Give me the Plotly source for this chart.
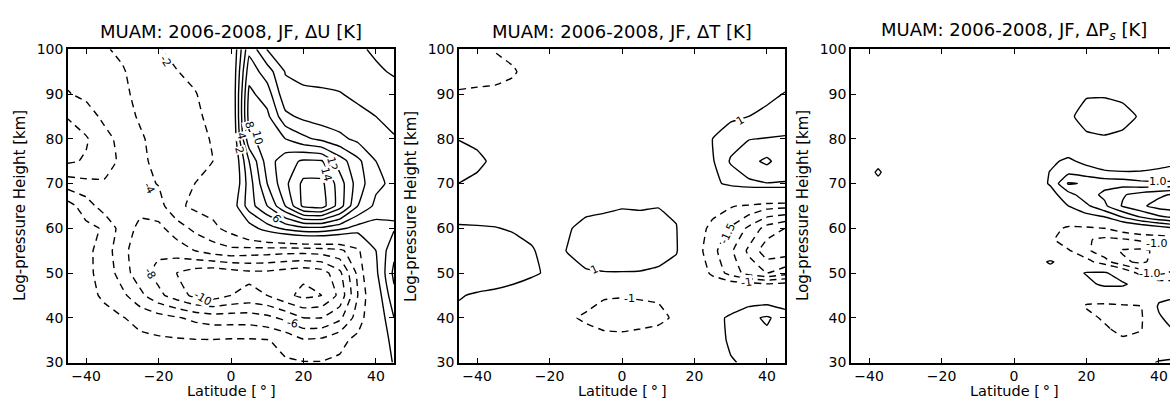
import plotly.graph_objects as go

# ---------------------------------------------------------------- grids
lat = [-45, -40, -35, -30, -25, -20, -15, -10, -5, 0, 5, 10, 15, 20, 25, 30, 35, 40, 45]
height_rows = [100, 95, 90, 85, 80, 75, 70, 65, 60, 55, 50, 45, 40, 35, 30]

# zonal wind difference, rows from 100 km down to 30 km
du_rows = [
    [-5.0, -4.6, -4.2, -3.6, -3.0, -2.1, -1.6, -1.2, -1.0, -0.5, 7.5, 3.9, 3.6, 3.4, 3.2, 2.8, 2.3, 1.7, 1.2],
    [-5.5, -5.0, -4.6, -4.2, -3.1, -2.5, -2.05, -1.6, -1.2, -0.5, 9.2, 7.0, 3.9, 3.7, 3.5, 3.2, 2.8, 2.3, 1.8],
    [-6.1, -5.6, -5.0, -4.3, -3.6, -3.0, -2.6, -2.1, -1.3, -0.6, 10.5, 9.0, 4.6, 4.2, 4.2, 4.1, 3.6, 3.0, 2.7],
    [-7.8, -6.8, -5.6, -4.6, -3.8, -3.2, -2.8, -2.3, -1.6, -0.8, 10.8, 10.5, 6.5, 5.5, 5.0, 4.8, 4.5, 4.0, 3.6],
    [-9.5, -8.2, -6.6, -5.4, -4.2, -3.4, -2.8, -2.4, -1.9, -1.0, 9.5, 11.0, 10.0, 8.5, 7.5, 6.5, 5.5, 4.6, 4.1],
    [-8.3, -7.8, -6.8, -5.6, -4.3, -3.6, -3.0, -2.4, -2.0, -1.0, 6.0, 11.0, 13.2, 14.3, 14.2, 11.0, 8.5, 6.0, 5.0],
    [-5.0, -5.5, -5.8, -5.3, -4.6, -3.9, -2.8, -2.0, -1.6, -0.8, 5.0, 10.0, 13.5, 16.5, 16.5, 13.0, 9.0, 6.5, 5.5],
    [-1.2, -3.0, -5.0, -5.6, -5.4, -4.8, -2.4, -1.6, -1.2, 0.5, 5.0, 8.0, 12.0, 16.5, 17.0, 13.0, 8.0, 5.5, 4.4],
    [-1.0, -1.5, -2.2, -5.0, -6.5, -6.5, -5.0, -3.5, -2.5, -1.2, 1.0, 3.0, 4.5, 5.5, 5.5, 4.5, 3.2, 3.0, 3.8],
    [-1.2, -1.5, -2.8, -5.5, -7.0, -7.5, -7.0, -6.0, -5.0, -4.5, -4.8, -5.0, -5.2, -5.2, -5.0, -4.5, -2.5, 2.0, 5.5],
    [-1.3, -1.6, -2.6, -5.0, -7.2, -8.7, -10.0, -11.0, -11.5, -11.0, -10.5, -10.5, -11.0, -11.5, -11.0, -8.5, -3.5, 1.5, 6.5],
    [-1.4, -1.6, -2.2, -3.5, -5.5, -7.5, -9.0, -10.5, -11.0, -10.0, -9.5, -10.0, -11.5, -12.5, -12.0, -9.5, -4.0, 0.5, 5.5],
    [-1.4, -1.5, -1.6, -1.9, -2.6, -3.2, -3.8, -4.5, -5.0, -5.0, -5.0, -5.5, -6.5, -8.0, -8.0, -6.5, -3.0, 0.0, 4.0],
    [-1.4, -1.5, -1.5, -1.5, -1.6, -1.7, -1.8, -1.9, -1.9, -1.8, -1.8, -1.9, -2.6, -3.8, -3.6, -2.5, -1.5, 0.0, 2.8],
    [-1.3, -1.3, -1.3, -1.4, -1.5, -1.5, -1.5, -1.6, -1.6, -1.6, -1.6, -1.7, -1.8, -1.9, -1.9, -1.7, -1.2, 0.0, 2.2],
]

# temperature difference, rows from 100 km down to 30 km
dt_rows = [
    [-1.3, -1.45, -0.95, -0.7, -0.5, -0.3, -0.2, -0.1, 0.0, 0.1, 0.1, 0.2, 0.2, 0.3, 0.3, 0.4, 0.5, 0.6, 0.7],
    [-1.4, -1.45, -1.3, -1.1, -0.6, -0.4, -0.2, -0.1, 0.0, 0.1, 0.1, 0.2, 0.3, 0.3, 0.4, 0.5, 0.6, 0.7, 0.8],
    [-0.9, -0.8, -0.8, -0.7, -0.5, -0.3, -0.2, -0.1, 0.0, 0.1, 0.2, 0.2, 0.3, 0.4, 0.5, 0.6, 0.8, 0.9, 1.02],
    [0.2, 0.1, 0.0, -0.1, -0.1, -0.1, 0.0, 0.0, 0.1, 0.1, 0.2, 0.3, 0.4, 0.5, 0.7, 0.9, 1.0, 1.1, 1.2],
    [0.97, 0.8, 0.6, 0.4, 0.2, 0.1, 0.1, 0.1, 0.1, 0.2, 0.2, 0.3, 0.5, 0.8, 1.0, 1.3, 1.48, 1.52, 1.55],
    [1.4, 1.2, 0.8, 0.5, 0.3, 0.2, 0.1, 0.1, 0.1, 0.2, 0.2, 0.3, 0.4, 0.6, 0.95, 1.55, 1.85, 2.1, 1.7],
    [0.99, 0.8, 0.6, 0.4, 0.3, 0.2, 0.1, 0.1, 0.1, 0.2, 0.2, 0.3, 0.3, 0.5, 0.8, 1.2, 1.4, 1.48, 1.48],
    [0.9, 0.8, 0.7, 0.6, 0.5, 0.4, 0.6, 0.85, 0.9, 0.97, 0.95, 0.98, 0.8, 0.2, -0.7, -0.95, -1.1, -1.3, -1.35],
    [1.02, 1.03, 1.02, 0.95, 0.85, 0.7, 0.95, 1.15, 1.2, 1.2, 1.2, 1.2, 1.05, -0.6, -1.2, -1.55, -2.1, -2.7, -3.0],
    [1.3, 1.35, 1.3, 1.2, 1.05, 0.8, 1.02, 1.2, 1.25, 1.3, 1.3, 1.25, 1.1, -0.7, -1.35, -1.9, -2.6, -3.3, -3.3],
    [1.3, 1.3, 1.25, 1.2, 1.1, 0.9, 0.85, 0.95, 0.98, 0.98, 0.97, 0.9, 0.5, -0.6, -1.1, -1.7, -2.2, -2.5, -2.2],
    [1.03, 0.95, 0.9, 0.8, 0.6, 0.2, -0.2, -0.7, -0.95, -0.97, -0.95, -0.92, -0.6, -0.3, -0.3, 0.2, 0.6, 0.6, 0.5],
    [0.9, 0.8, 0.6, 0.4, 0.2, 0.0, -0.9, -1.1, -1.2, -1.25, -1.2, -1.15, -0.9, -0.2, 0.7, 1.15, 1.4, 1.56, 1.3],
    [0.6, 0.5, 0.4, 0.3, 0.1, -0.2, -0.5, -0.7, -0.85, -0.85, -0.8, -0.7, -0.4, 0.0, 0.7, 1.1, 1.3, 1.38, 1.2],
    [0.4, 0.3, 0.3, 0.2, 0.1, 0.0, -0.2, -0.3, -0.4, -0.4, -0.3, -0.2, 0.0, 0.2, 0.5, 0.95, 1.1, 1.1, 1.0],
]

# surface-pressure related difference, finer vertical grid
lat_ps = [-45, -40, -37.5, -35, -25, -10, 0, 5, 10, 15, 20, 25, 30, 35, 40, 45]
height_rows_ps = [100, 95, 90, 85, 80, 77.5, 75, 72.5, 70, 67.5, 65, 62.5, 60, 57.5,
                  55, 52.5, 50, 47.5, 45, 42.5, 40, 37.5, 35, 32.5, 30]
dps_rows = [
    [0.1, 0.1, 0.1, 0.1, 0.1, 0.0, 0.0, 0.0, 0.1, 0.1, 0.2, 0.2, 0.2, 0.1, 0.1, 0.1],
    [0.1, 0.1, 0.1, 0.1, 0.1, 0.0, 0.0, 0.1, 0.1, 0.2, 0.3, 0.3, 0.3, 0.2, 0.1, 0.1],
    [0.1, 0.1, 0.1, 0.1, 0.0, 0.0, 0.1, 0.1, 0.2, 0.3, 0.45, 0.45, 0.4, 0.3, 0.2, 0.1],
    [0.1, 0.1, 0.1, 0.1, 0.0, 0.0, 0.1, 0.1, 0.2, 0.4, 0.7, 0.75, 0.65, 0.45, 0.2, 0.1],
    [0.0, 0.1, 0.1, 0.1, 0.0, 0.0, 0.1, 0.1, 0.2, 0.3, 0.4, 0.45, 0.4, 0.3, 0.2, 0.1],
    [0.0, 0.1, 0.1, 0.1, 0.0, 0.0, 0.1, 0.1, 0.2, 0.3, 0.3, 0.3, 0.3, 0.3, 0.3, 0.3],
    [0.0, 0.1, 0.2, 0.1, 0.0, 0.0, 0.1, 0.1, 0.4, 0.6, 0.35, 0.3, 0.3, 0.35, 0.4, 0.45],
    [0.0, 0.2, 0.65, 0.2, 0.0, 0.0, 0.1, 0.2, 0.52, 0.9, 0.75, 0.55, 0.52, 0.52, 0.55, 0.6],
    [0.0, 0.1, 0.2, 0.1, 0.0, 0.0, 0.1, 0.2, 0.55, 1.55, 1.45, 1.35, 1.3, 1.15, 1.1, 1.1],
    [0.0, 0.0, 0.1, 0.0, 0.0, 0.0, 0.1, 0.1, 0.3, 0.8, 1.3, 1.6, 1.95, 2.2, 2.4, 2.6],
    [0.0, 0.0, 0.0, 0.0, 0.0, 0.0, 0.0, 0.1, 0.2, 0.5, 0.9, 1.4, 2.05, 2.4, 2.7, 2.8],
    [0.0, 0.0, 0.0, 0.0, 0.0, 0.0, 0.0, 0.0, 0.1, 0.0, 0.3, 0.48, 1.0, 1.5, 1.9, 2.1],
    [0.0, 0.0, 0.0, 0.0, 0.0, 0.0, 0.0, 0.0, -0.3, -0.6, -0.6, -0.5, -0.2, 0.0, 0.2, 0.5],
    [0.0, 0.0, 0.0, 0.0, 0.0, 0.0, 0.0, 0.0, -0.4, -0.8, -0.95, -1.1, -1.05, -0.9, -0.9, -0.8],
    [0.0, 0.0, 0.0, 0.0, 0.0, 0.0, 0.0, 0.0, -0.3, -0.45, -0.9, -1.3, -1.55, -1.6, -1.4, -1.2],
    [0.0, 0.0, 0.0, 0.0, 0.0, 0.0, 0.1, 0.1, 0.6, 0.1, -0.3, -0.8, -1.4, -1.6, -1.3, -1.05],
    [0.0, 0.0, 0.0, 0.0, 0.0, 0.0, 0.0, 0.1, 0.1, 0.2, 0.55, 0.6, 0.1, -0.7, -1.1, -0.9],
    [0.0, 0.0, 0.0, 0.0, 0.0, 0.0, 0.0, 0.1, 0.1, 0.1, 0.3, 0.65, 0.6, 0.2, -0.2, -0.3],
    [0.0, 0.0, 0.0, 0.0, 0.0, 0.0, 0.0, 0.0, 0.0, 0.0, -0.3, -0.2, 0.0, 0.2, 0.3, 0.4],
    [0.0, 0.0, 0.0, 0.0, 0.0, 0.0, 0.0, 0.0, 0.0, -0.2, -0.55, -0.6, -0.6, -0.55, 0.6, 0.9],
    [0.0, 0.0, 0.0, 0.0, 0.0, 0.0, 0.0, 0.0, 0.0, -0.1, -0.3, -0.6, -0.7, -0.6, 0.4, 0.9],
    [0.0, 0.0, 0.0, 0.0, 0.0, 0.0, 0.0, 0.0, 0.0, 0.0, -0.1, -0.4, -0.7, -0.55, 0.2, 0.6],
    [0.0, 0.0, 0.0, 0.0, 0.0, 0.0, 0.0, 0.0, 0.0, 0.0, 0.0, -0.2, -0.4, -0.3, 0.1, 0.3],
    [0.0, 0.0, 0.0, 0.0, 0.0, 0.0, 0.0, 0.0, 0.0, 0.0, 0.0, 0.0, 0.0, 0.1, 0.2, 0.3],
    [0.0, 0.0, 0.0, 0.0, 0.0, 0.0, 0.0, 0.0, 0.0, 0.0, 0.0, 0.1, 0.2, 0.3, 0.55, 0.6],
]

# contour levels per panel: (negative start, negative end, positive start, positive end, step)
levels_du = (-12, -2, 2, 16, 2)
levels_dt = (-3.5, -1, 1, 2.5, 0.5)
levels_dps = (-2.0, -0.5, 0.5, 3.0, 0.5)

# inline contour labels: (latitude, height, level, rotation in degrees, anchor)
labels_du = [
    (-18.0, 97.3, -2, 57, "center"), (-22.5, 69.0, -4, 62, "center"),
    (-22.3, 50.0, -8, 60, "center"), (-7.7, 44.4, -10, 30, "center"),
    (17.0, 38.8, -6, 12, "center"),
    (2.2, 77.3, 2, 75, "center"), (3.0, 80.6, 4, 75, "center"),
    (5.0, 83.2, 8, 75, "center"), (7.2, 80.2, 10, 75, "center"),
    (28.0, 74.3, 12, 75, "center"), (26.3, 72.0, 14, 75, "center"),
    (12.5, 62.2, 6, 50, "center"),
]
labels_dt = [
    (32.8, 84.0, 1, -30, "center"), (-7.5, 50.7, 1, -25, "center"),
    (2.0, 44.4, -1, 0, "center"), (29.0, 58.7, -1.5, -65, "center"),
    (34.5, 47.9, -1, -8, "center"),
]
labels_dps = [
    (42.6, 70.4, 1.0, 0, "right"), (42.6, 56.6, -1.0, 0, "right"),
    (37.5, 49.8, -1.0, 0, "center"),
]

titles = [
    "MUAM: 2006-2008, JF, \u0394U [K]",
    "MUAM: 2006-2008, JF, \u0394T [K]",
    "MUAM: 2006-2008, JF, \u0394P<sub><i>s</i></sub> [K]",
]
lat_ticks = [-40, -20, 0, 20, 40]
height_ticks = [30, 40, 50, 60, 70, 80, 90, 100]

FONT = "DejaVu Sans"
W, H = 1170, 408

# ---------------------------------------------------------------- figure
fig = go.Figure()


def add_field(x, y_desc, rows_desc, levels, idx):
    neg0, neg1, pos0, pos1, step = levels
    y = y_desc[::-1]
    z = rows_desc[::-1]
    suffix = "" if idx == 1 else str(idx)
    for start, end, dash in ((neg0, neg1, "7px,5px"), (pos0, pos1, "solid")):
        fig.add_trace(go.Contour(
            x=x, y=y, z=z,
            autocontour=False,
            contours=dict(start=start, end=end, size=step, coloring="none",
                          showlabels=False),
            line=dict(color="black", width=1.4, dash=dash, smoothing=0.3),
            showscale=False, hoverinfo="skip",
            xaxis="x" + suffix, yaxis="y" + suffix,
        ))


add_field(lat, height_rows, du_rows, levels_du, 1)
add_field(lat, height_rows, dt_rows, levels_dt, 2)
add_field(lat_ps, height_rows_ps, dps_rows, levels_dps, 3)

# panel geometry in pixels (left, right) and shared top/bottom
panels_px = [(68, 394), (459, 785), (851, 1177)]
top_px, bottom_px = 43, 369
px_per_deg = (panels_px[0][1] - panels_px[0][0]) / 90.0

axis_style = dict(
    showline=True, linecolor="black", linewidth=1.5,
    ticks="inside", ticklen=5, tickwidth=1, tickcolor="black",
    showgrid=False, zeroline=False,
    tickfont=dict(family=FONT, size=14, color="black"),
)

layout = dict(
    width=W, height=H,
    margin=dict(l=0, r=0, t=0, b=0),
    paper_bgcolor="white", plot_bgcolor="white",
    showlegend=False,
    font=dict(family=FONT, color="black"),
)

annotations = []
for i, (x0, x1) in enumerate(panels_px):
    suffix = "" if i == 0 else str(i + 1)
    right = min(x1, W)
    xmax = -45 + (right - x0) / px_per_deg
    layout["xaxis" + suffix] = dict(
        axis_style, domain=[x0 / W, right / W], range=[-45, xmax],
        tickvals=lat_ticks, mirror="ticks",
        anchor="y" + suffix,
    )
    layout["yaxis" + suffix] = dict(
        axis_style, domain=[1 - bottom_px / H, 1 - top_px / H], range=[30, 100],
        tickvals=height_ticks, mirror="ticks" if x1 <= W else False,
        anchor="x" + suffix,
    )
    cx = (x0 + x1) / 2
    annotations.append(dict(
        text=titles[i], xref="paper", yref="paper",
        x=cx / W, y=1 - 24 / H, xanchor="center", yanchor="middle",
        showarrow=False, font=dict(family=FONT, size=18, color="black"),
    ))
    annotations.append(dict(
        text="Latitude [\u2009\u00b0\u2009]", xref="paper", yref="paper",
        x=cx / W, y=1 - 399 / H, xanchor="center", yanchor="middle",
        showarrow=False, font=dict(family=FONT, size=14.5, color="black"),
    ))
    annotations.append(dict(
        text="Log-pressure Height [km]", xref="paper", yref="paper",
        x=(x0 - 48) / W, y=1 - ((top_px + bottom_px) / 2) / H,
        xanchor="center", yanchor="middle", textangle=-90,
        showarrow=False, font=dict(family=FONT, size=15, color="black"),
    ))

for i, (labels, fmt) in enumerate(((labels_du, "{:.0f}"), (labels_dt, "{:g}"),
                                   (labels_dps, "{:.1f}"))):
    suffix = "" if i == 0 else str(i + 1)
    for x, y, level, angle, anchor in labels:
        annotations.append(dict(
            text=fmt.format(level), x=x, y=y, xref="x" + suffix, yref="y" + suffix,
            xanchor=anchor, showarrow=False, textangle=angle,
            bgcolor="white", borderpad=0,
            font=dict(family=FONT, size=11, color="black"),
        ))

layout["annotations"] = annotations
fig.update_layout(**layout)
fig.write_html("out.html")
